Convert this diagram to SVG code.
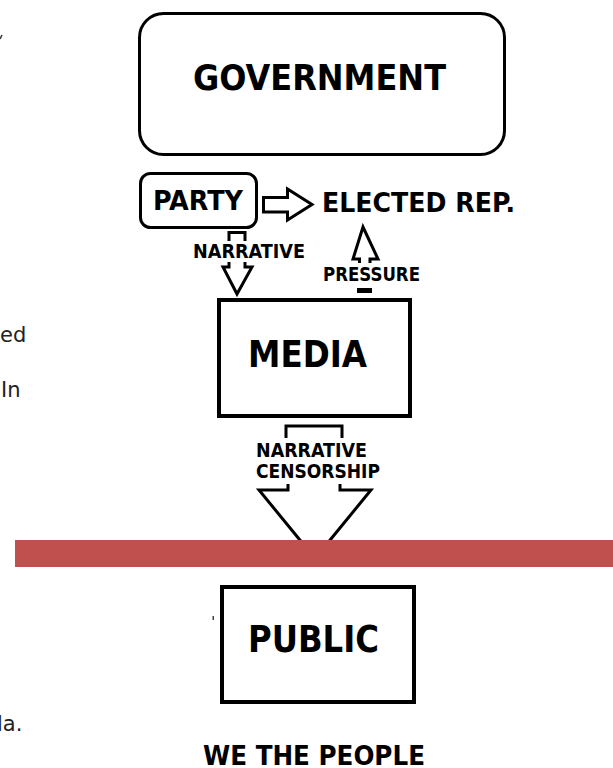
<svg xmlns="http://www.w3.org/2000/svg" width="613" height="768" viewBox="0 0 613 768">
<style>
.box{fill:#fff;stroke:#000}
.lbl{font-family:"DejaVu Sans Condensed","DejaVu Sans",sans-serif;font-stretch:condensed;font-weight:bold;fill:#000}
.doc{font-family:"DejaVu Sans",Verdana,sans-serif;font-size:21px;fill:#222}
.arr{fill:none;stroke:#000;stroke-width:3;stroke-linejoin:miter}
</style>
<rect width="613" height="768" fill="#fff"/>
<line x1="0" y1="39" x2="2" y2="35" stroke="#333" stroke-width="1.5"/>
<text class="doc" x="0" y="342">ed</text>
<text class="doc" x="1" y="397">In</text>
<text class="doc" x="-3" y="731">la.</text>
<rect x="212.5" y="616" width="1.5" height="4" fill="#444"/>
<g id="government">
<rect class="box" x="139.5" y="13.5" width="365" height="141" rx="24" stroke-width="3"/>
<text class="lbl" x="193" y="90" font-size="36" textLength="253" lengthAdjust="spacingAndGlyphs">GOVERNMENT</text>
</g>
<g id="party">
<rect class="box" x="140.5" y="173.5" width="116" height="54" rx="10" stroke-width="3"/>
<text class="lbl" x="153" y="210" font-size="27" textLength="90" lengthAdjust="spacingAndGlyphs">PARTY</text>
</g>
<g id="elected-rep">
<text class="lbl" x="322" y="212" font-size="26" textLength="193" lengthAdjust="spacingAndGlyphs">ELECTED REP.</text>
</g>
<g id="media">
<rect class="box" x="219" y="300" width="191" height="116" stroke-width="4"/>
<text class="lbl" x="248" y="367" font-size="37" textLength="119" lengthAdjust="spacingAndGlyphs">MEDIA</text>
</g>
<g id="public">
<rect class="box" x="222" y="587" width="192" height="115" stroke-width="4"/>
<text class="lbl" x="248" y="652" font-size="37" textLength="131" lengthAdjust="spacingAndGlyphs">PUBLIC</text>
</g>
<g id="we-the-people">
<text class="lbl" x="203" y="765" font-size="26" font-weight="600" textLength="222" lengthAdjust="spacingAndGlyphs">WE THE PEOPLE</text>
</g>
<g id="connectors">
<polygon class="arr" fill="#fff" points="263.5,197.5 287.5,197.5 287.5,189 312,204.5 287.5,220 287.5,212 263.5,212"/>
<polyline class="arr" points="229,241 229,232.5 245,232.5 245,241"/>
<polyline class="arr" points="229,262 229,267 223,267 237,294 252,267 245,267 245,262"/>
<text class="lbl" x="193" y="258" font-size="19" textLength="112" lengthAdjust="spacingAndGlyphs">NARRATIVE</text>
<polyline class="arr" points="359.5,263 359.5,259 353,259 363,227 378,259 370,259 370,263"/>
<rect x="357" y="288" width="15" height="5" fill="#000"/>
<text class="lbl" x="323" y="281" font-size="19" textLength="97" lengthAdjust="spacingAndGlyphs">PRESSURE</text>
<polyline class="arr" stroke-width="4" points="286,438 286,426 342,426 342,438"/>
<text class="lbl" x="256" y="457" font-size="19" textLength="111" lengthAdjust="spacingAndGlyphs">NARRATIVE</text>
<text class="lbl" x="256" y="478" font-size="19" textLength="124" lengthAdjust="spacingAndGlyphs">CENSORSHIP</text>
<polyline class="arr" stroke-width="4" points="288,484 288,490 259,490 304,545"/>
<polyline class="arr" stroke-width="4" points="340,484 340,490 371,490 326,545"/>
</g>
<rect id="barrier" x="15" y="540" width="598" height="27" fill="#C0504D"/>
</svg>
